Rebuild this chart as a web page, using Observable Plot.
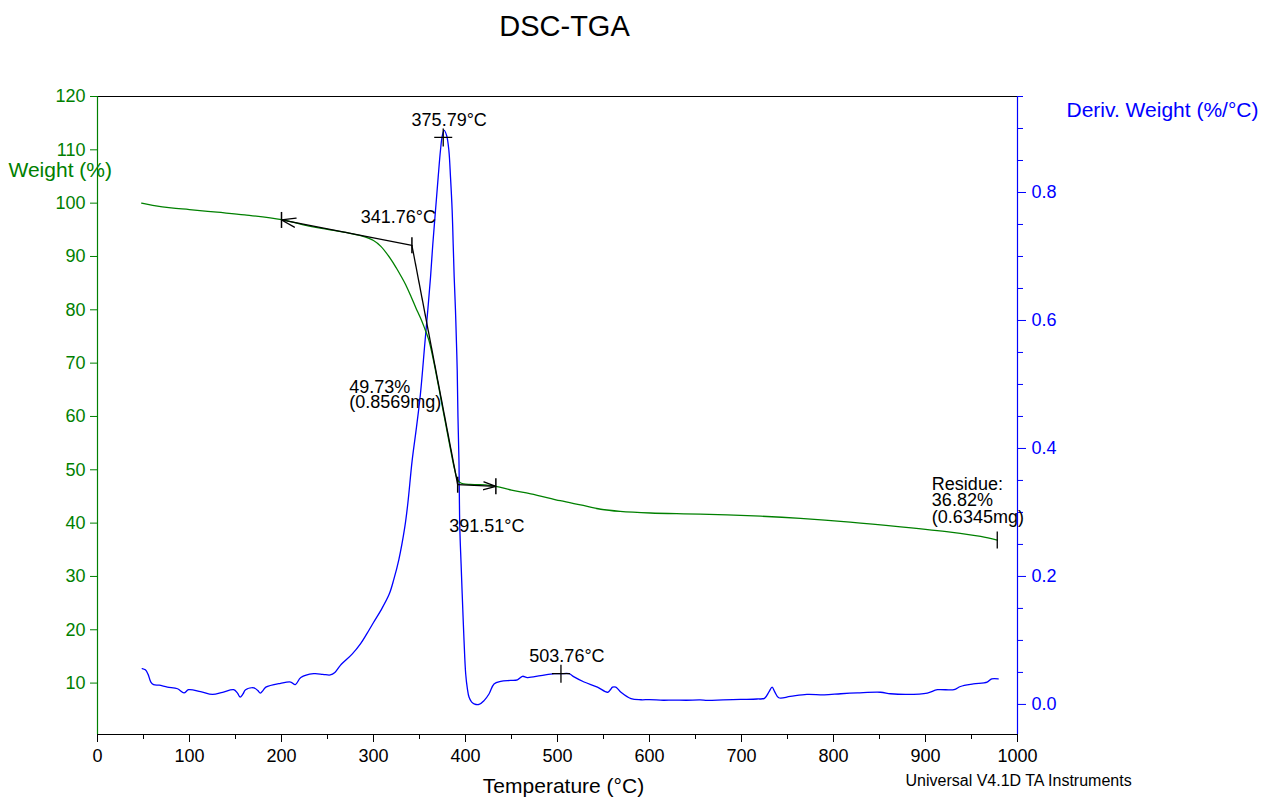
<!DOCTYPE html>
<html>
<head>
<meta charset="utf-8">
<script src="https://cdn.jsdelivr.net/npm/d3@7"></script>
<script src="https://cdn.jsdelivr.net/npm/@observablehq/plot@0.6"></script>
<style>
html, body { margin: 0; padding: 0; background: #fff; }
svg { display: block; }
</style>
</head>
<body>
<div id="chart"></div>
<script>
// ---------- Data ----------
// TGA curve: temperature (°C) and weight (%)
const tgaTemp = [48, 60, 80, 100, 130, 160, 200, 230, 250, 270, 286, 300, 308, 318, 325, 330, 335, 341, 346, 351, 355, 360, 364, 368, 372, 376, 380, 384, 388, 391, 394, 398, 405, 416, 433, 450, 471, 503, 525, 547, 568, 601, 655, 721, 764, 818, 873, 927, 960, 978];
const tgaWeight = [100.0, 99.6, 99.1, 98.8, 98.3, 97.8, 96.9, 95.7, 95.1, 94.5, 93.9, 93.0, 91.9, 89.7, 87.8, 86.3, 84.7, 82.4, 80.4, 78.5, 76.8, 74.4, 71.5, 68.1, 64.5, 60.8, 57.2, 53.6, 50.2, 48.3, 47.6, 47.35, 47.25, 47.2, 46.9, 46.2, 45.5, 44.2, 43.4, 42.6, 42.2, 41.9, 41.7, 41.3, 40.9, 40.2, 39.3, 38.3, 37.5, 36.82];

// DTG curve: temperature (°C) and derivative weight (%/°C)
const dtgTemp = [48.6, 52, 55, 58, 61, 67, 76, 87, 94, 99, 112, 125, 136, 148, 152, 155, 158, 161, 170, 174, 177, 180, 183, 199, 210, 215, 221, 235, 245, 253, 258, 264, 277, 286, 293, 300, 308, 317, 322, 327.5, 334, 337.3, 342, 346.7, 351, 355.8, 359, 362, 364.5, 367.4, 370.3, 372.8, 374.8, 376.8, 379.5, 381.9, 383.7, 385.5, 386.6, 387.7, 389.1, 390.2, 391, 391.8, 392.9, 393.8, 395.2, 396.4, 398.4, 400.2, 402, 403.8, 406.5, 409.3, 414.7, 420.2, 425.7, 431, 438.3, 449, 456.4, 462, 467.3, 481.8, 496.3, 503.6, 512.6, 518, 528.9, 543.4, 554.4, 557.5, 559.8, 563.4, 569, 579.9, 590.8, 600, 615, 626, 640, 655, 663, 680, 699, 717, 725, 730, 733.3, 736, 740.5, 753, 771, 790, 808, 826, 851, 862, 880, 902, 913, 931, 938, 952, 967, 972, 979];
const dtgDeriv = [0.056, 0.054, 0.047, 0.035, 0.031, 0.030, 0.027, 0.0245, 0.018, 0.023, 0.020, 0.0156, 0.019, 0.023, 0.018, 0.0115, 0.016, 0.023, 0.026, 0.022, 0.0177, 0.022, 0.027, 0.033, 0.035, 0.031, 0.042, 0.048, 0.047, 0.046, 0.050, 0.061, 0.079, 0.095, 0.111, 0.128, 0.147, 0.172, 0.195, 0.226, 0.277, 0.314, 0.381, 0.433, 0.485, 0.564, 0.616, 0.668, 0.72, 0.772, 0.824, 0.866, 0.889, 0.897, 0.889, 0.866, 0.824, 0.772, 0.72, 0.668, 0.616, 0.564, 0.522, 0.45, 0.38, 0.277, 0.22, 0.173, 0.10, 0.048, 0.025, 0.0115, 0.004, 0.001, 0.0, 0.006, 0.0167, 0.032, 0.036, 0.0375, 0.0385, 0.044, 0.042, 0.045, 0.048, 0.048, 0.048, 0.043, 0.035, 0.027, 0.019, 0.023, 0.027, 0.027, 0.019, 0.009, 0.0073, 0.0075, 0.0065, 0.0068, 0.0065, 0.0070, 0.0062, 0.0070, 0.0078, 0.0085, 0.0095, 0.020, 0.027, 0.020, 0.0104, 0.0125, 0.0156, 0.015, 0.0167, 0.018, 0.019, 0.0167, 0.0156, 0.0177, 0.023, 0.023, 0.028, 0.032, 0.035, 0.040, 0.040];

// Tangent construction (onset analysis)
const tangentTemp = [200, 341.76, 391.51, 433];
const tangentWeight = [96.85, 92.1, 47.2, 46.9];

// Peak markers on DTG
const peakTemp = [375.79, 503.76];
const peakDeriv = [0.886, 0.048];
const peakLabels = ["375.79°C", "503.76°C"];

// Residue
const residueTemp = 978;
const residueWeight = 36.82;
const residueLabel = "Residue:\n36.82%\n(0.6345mg)";
const lossLabel = "49.73%\n(0.8569mg)";
const onsetLabels = ["341.76°C", "391.51°C"];

// Axis ticks
const xMajor = [0, 100, 200, 300, 400, 500, 600, 700, 800, 900, 1000];
const xMinor = [50, 150, 250, 350, 450, 550, 650, 750, 850, 950];
const yLeftTicks = [10, 20, 30, 40, 50, 60, 70, 80, 90, 100, 110, 120];
const yRightMajor = [0.0, 0.2, 0.4, 0.6, 0.8];
const yRightMinor = [0.05, 0.1, 0.15, 0.25, 0.3, 0.35, 0.45, 0.5, 0.55, 0.65, 0.7, 0.75, 0.85, 0.9, 0.95];

// ---------- Setup ----------
const GREEN = "#008000";
const BLUE = "#0000ff";
const FONT = "'Liberation Sans', Arial, Helvetica, sans-serif";

// secondary (derivative) axis mapped onto the weight scale
const D0 = 6.0, DK = 120.0;
const toW = d => D0 + DK * d;
const fromW = w => (w - D0) / DK;

const tga = tgaTemp.map((t, i) => ({t, w: tgaWeight[i]}));
const dtg = dtgTemp.map((t, i) => ({t, w: toW(dtgDeriv[i])}));
const tangentPts = tangentTemp.map((t, i) => ({t, w: tangentWeight[i]}));
const peaks = peakTemp.map((t, i) => ({t, w: toW(peakDeriv[i]), label: peakLabels[i]}));

const vbar = {draw(ctx, size) { const r = Math.sqrt(size / Math.PI); ctx.moveTo(0, -r); ctx.lineTo(0, r); }};
const cross = {draw(ctx, size) { const r = Math.sqrt(size / Math.PI); ctx.moveTo(-r, 0); ctx.lineTo(r, 0); ctx.moveTo(0, -r); ctx.lineTo(0, r); }};

const arrows = [
  {x1: tangentTemp[1], y1: tangentWeight[1], x2: tangentTemp[0], y2: tangentWeight[0]},
  {x1: tangentTemp[2], y1: tangentWeight[2], x2: tangentTemp[3], y2: tangentWeight[3]}
];
const steep = [{x1: tangentTemp[1], y1: tangentWeight[1], x2: tangentTemp[2], y2: tangentWeight[2]}];
const lossAnchor = [{t: (tangentTemp[1] + tangentTemp[2]) / 2, w: (tangentWeight[1] + tangentWeight[2]) / 2, label: lossLabel}];

const chart = Plot.plot({
  width: 1273,
  height: 798,
  marginLeft: 97,
  marginRight: 256,
  marginTop: 96,
  marginBottom: 64,
  style: {fontFamily: FONT, fontSize: "18px", background: "#fff", overflow: "visible"},
  x: {domain: [0, 1000]},
  y: {domain: [0.36, 120]},
  marks: [
    // curves
    Plot.line(dtg, {x: "t", y: "w", stroke: BLUE, strokeWidth: 1.3, curve: "catmull-rom"}),
    Plot.line(tga, {x: "t", y: "w", stroke: GREEN, strokeWidth: 1.3, curve: "catmull-rom"}),

    // frame lines
    Plot.ruleY([120], {stroke: "black", strokeWidth: 1}),
    Plot.ruleY([0.36], {stroke: "black", strokeWidth: 1}),
    Plot.ruleX([0], {stroke: GREEN, strokeWidth: 1.2}),
    Plot.ruleX([1000], {stroke: BLUE, strokeWidth: 1.2}),

    // x axis
    Plot.axisX(xMajor, {anchor: "bottom", tickSize: 8, tickPadding: 7, fontSize: 18, color: "black", label: null, tickFormat: d => String(d)}),
    Plot.axisX(xMinor, {anchor: "bottom", tickSize: 5, tickFormat: () => "", color: "black", label: null}),
    // left axis
    Plot.axisY(yLeftTicks, {anchor: "left", tickSize: 7, tickPadding: 5, fontSize: 18, color: GREEN, label: null, tickFormat: d => String(d)}),
    // right axis
    Plot.axisY(yRightMajor.map(toW), {anchor: "right", tickSize: 8, tickPadding: 6, fontSize: 18, color: BLUE, label: null,
      tickFormat: w => fromW(w).toFixed(1)}),
    Plot.axisY(yRightMinor.map(toW), {anchor: "right", tickSize: 5, tickFormat: () => "", color: BLUE, label: null}),

    // tangent construction
    Plot.arrow(arrows, {x1: "x1", y1: "y1", x2: "x2", y2: "y2", stroke: "black", strokeWidth: 1.3, headLength: 17, headAngle: 36}),
    Plot.link(steep, {x1: "x1", y1: "y1", x2: "x2", y2: "y2", stroke: "black", strokeWidth: 1.3}),
    Plot.dot(tangentPts, {x: "t", y: "w", symbol: vbar, r: 8, fill: "none", stroke: "black", strokeWidth: 1.5}),
    Plot.dot([{t: residueTemp, w: residueWeight}], {x: "t", y: "w", symbol: vbar, r: 8.5, fill: "none", stroke: "black", strokeWidth: 1.3}),
    Plot.dot(peaks, {x: "t", y: "w", symbol: cross, r: 9, fill: "none", stroke: "black", strokeWidth: 1.3}),

    // annotation labels
    Plot.text(peaks, {x: "t", y: "w", text: "label", textAnchor: "middle", lineAnchor: "bottom", dx: 6, dy: -11.5, fontSize: 18, fill: "black"}),
    Plot.text([{t: tangentTemp[1], w: tangentWeight[1], label: onsetLabels[0]}], {x: "t", y: "w", text: "label", textAnchor: "middle", lineAnchor: "bottom", dx: -13.5, dy: -22, fontSize: 18, fill: "black"}),
    Plot.text([{t: tangentTemp[2], w: tangentWeight[2], label: onsetLabels[1]}], {x: "t", y: "w", text: "label", textAnchor: "start", lineAnchor: "bottom", dx: -8.5, dy: 47, fontSize: 18, fill: "black"}),
    Plot.text(lossAnchor, {x: "t", y: "w", text: "label", textAnchor: "start", lineAnchor: "bottom", dx: -85.5, dy: 43.5, lineHeight: 0.88, fontSize: 18, fill: "black"}),
    Plot.text([{t: residueTemp, w: residueWeight, label: residueLabel}], {x: "t", y: "w", text: "label", textAnchor: "start", lineAnchor: "bottom", dx: -65.4, dy: -17.3, lineHeight: 0.917, fontSize: 18, fill: "black"}),

    // titles and axis labels
    Plot.text(["DSC-TGA"], {frameAnchor: "top", text: d => d, textAnchor: "middle", lineAnchor: "bottom", dx: 7, dy: -61, fontSize: 29, fill: "black"}),
    Plot.text(["Weight (%)"], {frameAnchor: "top-left", text: d => d, textAnchor: "start", lineAnchor: "bottom", dx: -89, dy: 80, fontSize: 21, fill: GREEN}),
    Plot.text(["Deriv. Weight (%/°C)"], {frameAnchor: "top-right", text: d => d, textAnchor: "start", lineAnchor: "bottom", dx: 49, dy: 20, fontSize: 21, fill: BLUE}),
    Plot.text(["Temperature (°C)"], {frameAnchor: "bottom", text: d => d, textAnchor: "middle", lineAnchor: "bottom", dx: 6, dy: 58, fontSize: 21, fill: "black"}),
    Plot.text(["Universal V4.1D TA Instruments"], {frameAnchor: "bottom-right", text: d => d, textAnchor: "start", lineAnchor: "bottom", dx: -112, dy: 51, fontSize: 16, fill: "black"})
  ]
});

document.getElementById("chart").appendChild(chart);
</script>
</body>
</html>
